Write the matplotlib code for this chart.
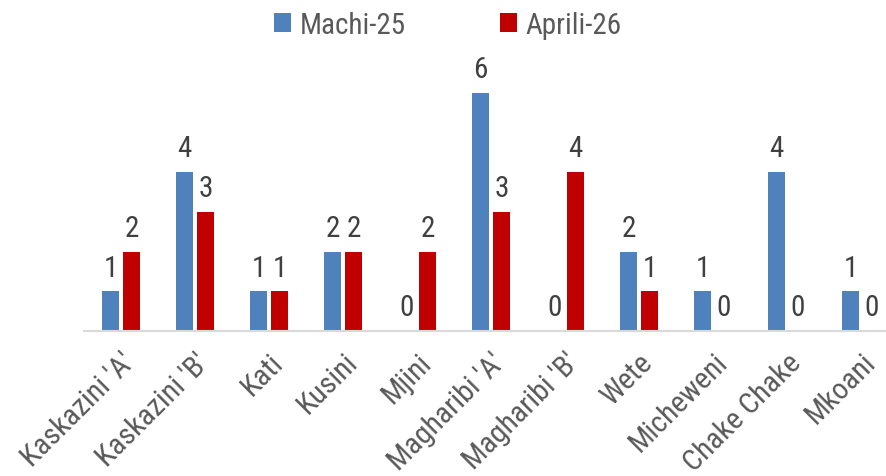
import numpy as np
import matplotlib.pyplot as plt

# daten
categories = ["Kaskazini 'A'", "Kaskazini 'B'", "Kati", "Kusini", "Mjini",
              "Magharibi 'A'", "Magharibi 'B'", "Wete", "Micheweni",
              "Chake Chake", "Mkoani"]
machi_25 = [1, 4, 1, 2, 0, 6, 0, 2, 1, 4, 1]
aprili_26 = [2, 3, 1, 2, 2, 3, 4, 1, 0, 0, 0]

# schmale schrift wie arial narrow
plt.rcParams['font.family'] = ['Roboto Condensed', 'Liberation Sans', 'DejaVu Sans']

fig = plt.figure(figsize=(8.86, 4.77), dpi=100)
# axes reicht rechts über den rand hinaus wie im original
ax = fig.add_axes([84 / 886, 1 - 332 / 477, 814 / 886, 7 * 39.7 / 477])

x = np.arange(len(categories))
w = 0.23
off = 0.142
b1 = ax.bar(x - off, machi_25, w, color='#4F81BD', label='Machi-25')
b2 = ax.bar(x + off, aprili_26, w, color='#C00000', label='Aprili-26')

for bars in (b1, b2):
    ax.bar_label(bars, padding=7, fontsize=21, color='#404040')

ax.set_xlim(-0.5, len(categories) - 0.5)
ax.set_ylim(0, 7)
ax.set_xticks(x)
ax.set_xticklabels(categories, rotation=45, ha='right', rotation_mode='anchor',
                   fontsize=21.5, color='#595959')
ax.tick_params(axis='x', length=0, pad=12)
ax.set_yticks([])
for s in ['top', 'right', 'left']:
    ax.spines[s].set_visible(False)
ax.spines['bottom'].set_color('#D9D9D9')
ax.spines['bottom'].set_linewidth(1.5)

fig.legend(loc='center', bbox_to_anchor=(448 / 886, 1 - 26 / 477), ncol=2,
           frameon=False, fontsize=21, labelcolor='#595959',
           handlelength=0.6, handleheight=0.6, handletextpad=0.3, columnspacing=3.2)

fig.savefig('out.png', dpi=100)
